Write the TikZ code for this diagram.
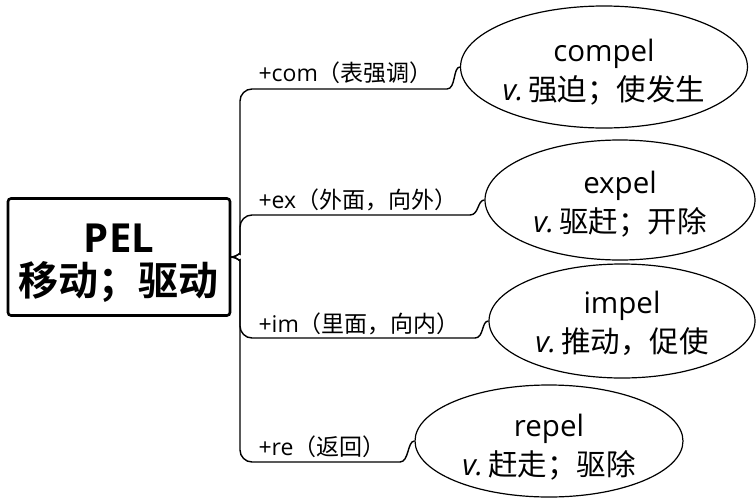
\documentclass[tikz,border=0pt]{standalone}
\usepackage{fontspec}
\setmainfont{Open Sans}
\newfontfamily\cjk{Noto Sans CJK SC}[BoldFont={Noto Sans CJK SC Bold}]
\usetikzlibrary{shapes.geometric}
\begin{document}
\begin{tikzpicture}[x=1pt,y=-1pt,
  word/.style={ellipse, draw, line width=1.2pt, inner sep=0pt, align=center,
    font=\fontsize{29.5}{39}\selectfont},
  lbl/.style={anchor=west, font=\fontsize{23}{26}\selectfont},
  conn/.style={line width=1.4pt, rounded corners=12pt},
  sconn/.style={line width=1.4pt},
  rootbox/.style={draw, line width=2.6pt, rounded corners=3pt, align=center,
    minimum width=222pt, minimum height=117pt,
    font=\bfseries\fontsize{40}{43}\selectfont}]
\useasboundingbox (0,0) rectangle (756,499);
\node[rootbox] (root) at (119,257) {\rule{0pt}{42pt}PEL\\\cjk 移动；驱动};
\node[word, minimum width=282pt, minimum height=122pt] (compel) at (604,67)
  {\rule{0pt}{32pt}compel\\{\itshape v.}\,{\cjk 强迫；使发生}};
\node[word, minimum width=270pt, minimum height=120pt] (expel) at (620,200)
  {\rule{0pt}{30pt}expel\\{\itshape v.}\,{\cjk 驱赶；开除}};
\node[word, minimum width=266pt, minimum height=114pt] (impel) at (622,321)
  {\rule{0pt}{28pt}impel\\{\itshape v.}\,{\cjk 推动，促使}};
\node[word, minimum width=268pt, minimum height=112pt] (repel) at (549,441)
  {\rule{0pt}{34pt}repel\\{\itshape v.}\,{\cjk 赶走；驱除}};
\coordinate (e1) at (447,89);
\coordinate (e2) at (470,215);
\coordinate (e3) at (475,338);
\coordinate (e4) at (400,462);
\draw[conn] (root.east) .. controls (237,257) and (240,252) .. (240,242) |- (e1);
\draw[sconn] (e1) .. controls +(9,0) and +(-7,0) .. (compel.west);
\draw[conn] (root.east) .. controls (237,257) and (240,252) .. (240,242) |- (e2);
\draw[sconn] (e2) .. controls +(9,0) and +(-7,0) .. (expel.west);
\draw[conn] (root.east) .. controls (237,257) and (240,262) .. (240,272) |- (e3);
\draw[sconn] (e3) .. controls +(9,0) and +(-7,0) .. (impel.west);
\draw[conn] (root.east) .. controls (237,257) and (240,262) .. (240,272) |- (e4);
\draw[sconn] (e4) .. controls +(9,0) and +(-7,0) .. (repel.west);
\node[lbl] (l1) at (255,73) {+com{\cjk （表强调）}};
\node[lbl] (l2) at (255,200) {+ex{\cjk （外面，向外）}};
\node[lbl] (l3) at (255,324) {+im{\cjk （里面，向内）}};
\node[lbl] (l4) at (255,447) {+re{\cjk （返回）}};
\end{tikzpicture}
\end{document}
